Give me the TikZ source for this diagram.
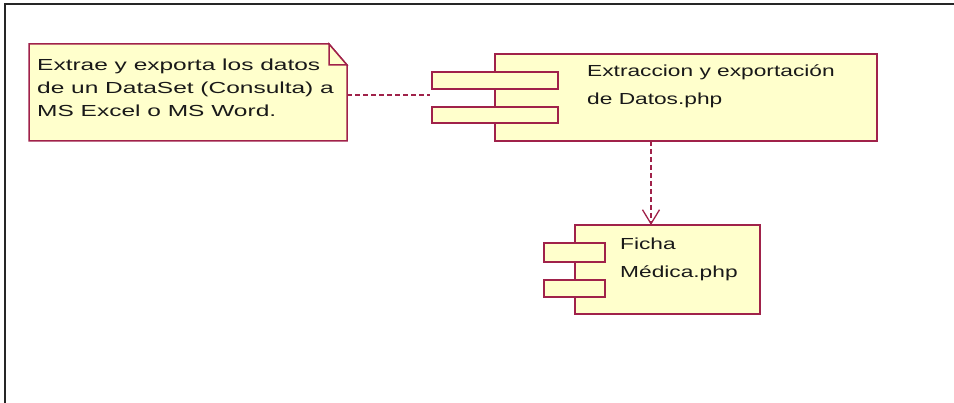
\documentclass[tikz,border=0pt]{standalone}
\usepackage{fontspec}
\setmainfont{Liberation Sans}
\newfontfamily\widefont[FakeStretch=1.42]{Liberation Sans}
\newfontfamily\notefont[FakeStretch=1.53]{Liberation Sans}
\usetikzlibrary{arrows.meta}
\definecolor{umlborder}{HTML}{A0224A}
\definecolor{umlfill}{HTML}{FFFFCC}
\tikzset{
  box/.style={draw=umlborder, fill=umlfill, line width=1.5pt},
  txt/.style={anchor=base west, inner sep=0pt, font=\widefont\fontsize{16}{18}\selectfont, text=black!90},
  notetxt/.style={txt, font=\notefont\fontsize{16}{18}\selectfont},
  dep/.style={draw=umlborder, line width=1.3pt, dash pattern=on 5pt off 3pt},
}
\begin{document}
\begin{tikzpicture}[x=1pt,y=-1pt]
\useasboundingbox (0,0) rectangle (954,403);
% frame
\draw[line width=2pt, black!85] (5,403) -- (5,4) -- (954,4);

% note
\path[box] (29,44) -- (329,44) -- (347,65) -- (347,141) -- (29,141) -- cycle;
\path[box, line join=miter] (329,44) -- (329,65) -- (347,65) -- cycle;
\node[coordinate] (noteR) at (347,95) {};
\node[notetxt] (n1) at (37,71) {Extrae y exporta los datos};
\node[notetxt] (n2) at (37,94) {de un DataSet (Consulta) a};
\node[notetxt] (n3) at (37,117) {MS Excel o MS Word.};

% component 1
\path[box] (495,54) rectangle (877,141);
\node[coordinate] (c1L) at (430,95) {};
\node[coordinate] (c1B) at (651,141) {};
\path[box] (432,72) rectangle (558,89);
\path[box] (432,107) rectangle (558,123);
\node[txt] (t1) at (587,77) {Extraccion y exportación};
\node[txt] (t2) at (587,105) {de Datos.php};

% component 2
\path[box] (575,225) rectangle (760,314);
\node[coordinate] (c2T) at (651,225) {};
\path[box] (544,243) rectangle (605,262);
\path[box] (544,280) rectangle (605,297);
\node[txt] (f1) at (620,250) {Ficha};
\node[txt] (f2) at (620,278) {Médica.php};

% connectors
\draw[dep] (noteR) -- (c1L);
\draw[dep, -{Straight Barb[length=14pt,width=17pt,line width=1.3pt]}] (c1B) -- (c2T);
\end{tikzpicture}
\end{document}
